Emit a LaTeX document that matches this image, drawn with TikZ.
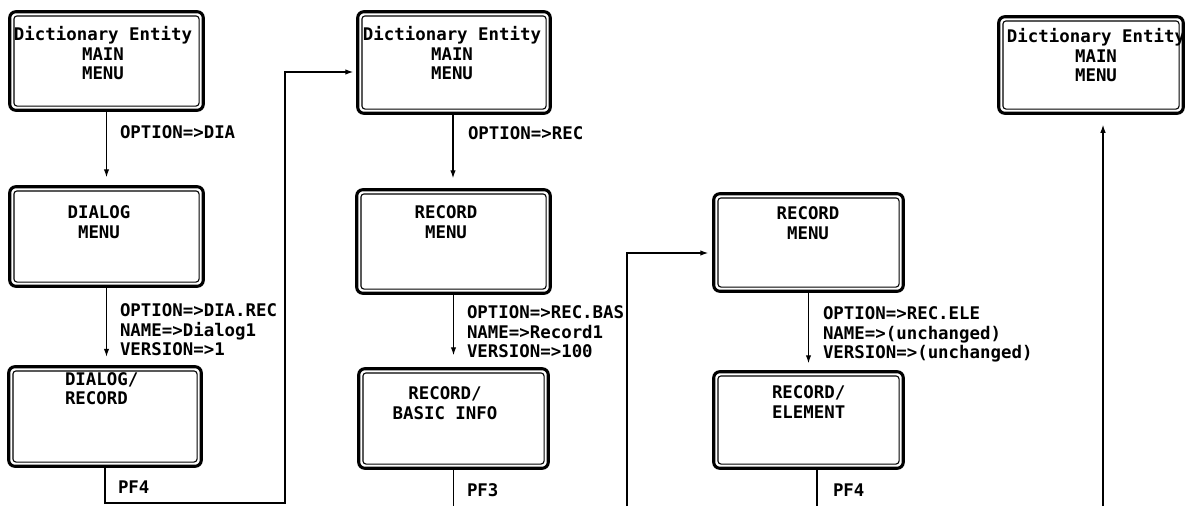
\documentclass[tikz,border=0pt]{standalone}
\usepackage{fontspec}
\setmonofont{DejaVu Sans Mono}
\usetikzlibrary{arrows.meta,calc}
\begin{document}
\begin{tikzpicture}[x=1pt,y=-1pt,
  scr/.style={draw, line width=3.1pt, rounded corners=6pt, inner sep=0pt, outer sep=0pt,
    path picture={\draw[line width=1.1pt, rounded corners=3pt]
      ([shift={(4.2pt,-4.2pt)}]path picture bounding box.north west) rectangle
      ([shift={(-4.2pt,4.2pt)}]path picture bounding box.south east);}},
  txt/.style={font=\ttfamily\bfseries\fontsize{17.4}{19.5}\selectfont, inner sep=0pt, outer sep=0pt},
  lbl/.style={txt, anchor=north west, align=left},
  ctr/.style={txt, anchor=north, align=center},
  arr/.style={line width=1.2pt, -{Latex[length=8pt,width=5.5pt]}},
  ln/.style={line width=1.2pt}]
\useasboundingbox (0,0) rectangle (1186,506);

% screens
\node[scr, minimum width=193.5pt, minimum height=98.5pt]  (b1) at (106.5,61) {};
\node[scr, minimum width=193.5pt, minimum height=99.5pt]  (b2) at (106.5,236.5) {};
\node[scr, minimum width=192.5pt, minimum height=99.5pt]  (b3) at (105,416.5) {};
\node[scr, minimum width=192.5pt, minimum height=101.5pt] (b4) at (454,62.5) {};
\node[scr, minimum width=193.5pt, minimum height=103.5pt] (b5) at (453.5,241.5) {};
\node[scr, minimum width=189.5pt, minimum height=99.5pt]  (b6) at (453.5,418.5) {};
\node[scr, minimum width=189.5pt, minimum height=97.5pt]  (b7) at (808.5,242.5) {};
\node[scr, minimum width=189.5pt, minimum height=96.5pt]  (b8) at (808.5,420) {};
\node[scr, minimum width=184.5pt, minimum height=96.5pt]  (b9) at (1091,65) {};

% screen titles
\node[ctr] (t1) at (103,26.6) {Dictionary Entity\\MAIN\\MENU};
\node[ctr] (t2) at (99,205.6) {DIALOG\\MENU};
\node[lbl] (t3) at (65,372.5) {DIALOG/\\RECORD};
\node[ctr] (t4) at (452,26.6) {Dictionary Entity\\MAIN\\MENU};
\node[ctr] (t5) at (446,205.6) {RECORD\\MENU};
\node[ctr] (t6) at (445,386.6) {RECORD/\\BASIC INFO};
\node[ctr] (t7) at (808,206.6) {RECORD\\MENU};
\node[lbl] (t8) at (772,385.6) {RECORD/\\ELEMENT};
\node[ctr] (t9) at (1096,28.6) {Dictionary Entity\\MAIN\\MENU};

% free ends
\coordinate (k1) at (285,503);
\coordinate (e2) at (453.5,506);
\coordinate (s3) at (627,506);
\coordinate (e4) at (817,506);
\coordinate (s5) at (1103,506);

% connectors
\draw[arr, shorten >=9.5pt] (b1.south) -- (b2.north);
\draw[arr, shorten >=10pt] (b2.south) -- (b2.south |- b3.north);
\draw[arr, shorten >=4.5pt] (b3.south) |- (k1) |- ([yshift=-9.5pt]b4.west);
\draw[arr, shorten >=11.5pt] ([xshift=-1pt]b4.south) -- ([xshift=-1pt]b4.south |- b5.north);
\draw[arr, shorten >=13.5pt] (b5.south) -- (b6.north);
\draw[ln] (b6.south) -- (e2);
\draw[arr, shorten >=5.5pt] (s3) |- ([yshift=-10.5pt]b7.west);
\draw[arr, shorten >=8.5pt] (b7.south) -- (b8.north);
\draw[ln] ([xshift=8.5pt]b8.south) -- (e4);
\draw[arr, shorten >=11.5pt] (s5) -- (s5 |- b9.south);

% connector labels
\node[lbl] (l1) at (120,125.6) {OPTION=>DIA};
\node[lbl] (l2) at (120,303.6) {OPTION=>DIA.REC\\NAME=>Dialog1\\VERSION=>1};
\node[lbl] (l3) at (468,126.6) {OPTION=>REC};
\node[lbl] (l4) at (467,305.6) {OPTION=>REC.BAS\\NAME=>Record1\\VERSION=>100};
\node[lbl] (l5) at (823,306.6) {OPTION=>REC.ELE\\NAME=>(unchanged)\\VERSION=>(unchanged)};
\node[lbl] (p1) at (118,480.6) {PF4};
\node[lbl] (p2) at (467,483.6) {PF3};
\node[lbl] (p3) at (833,483.6) {PF4};
\end{tikzpicture}
\end{document}
